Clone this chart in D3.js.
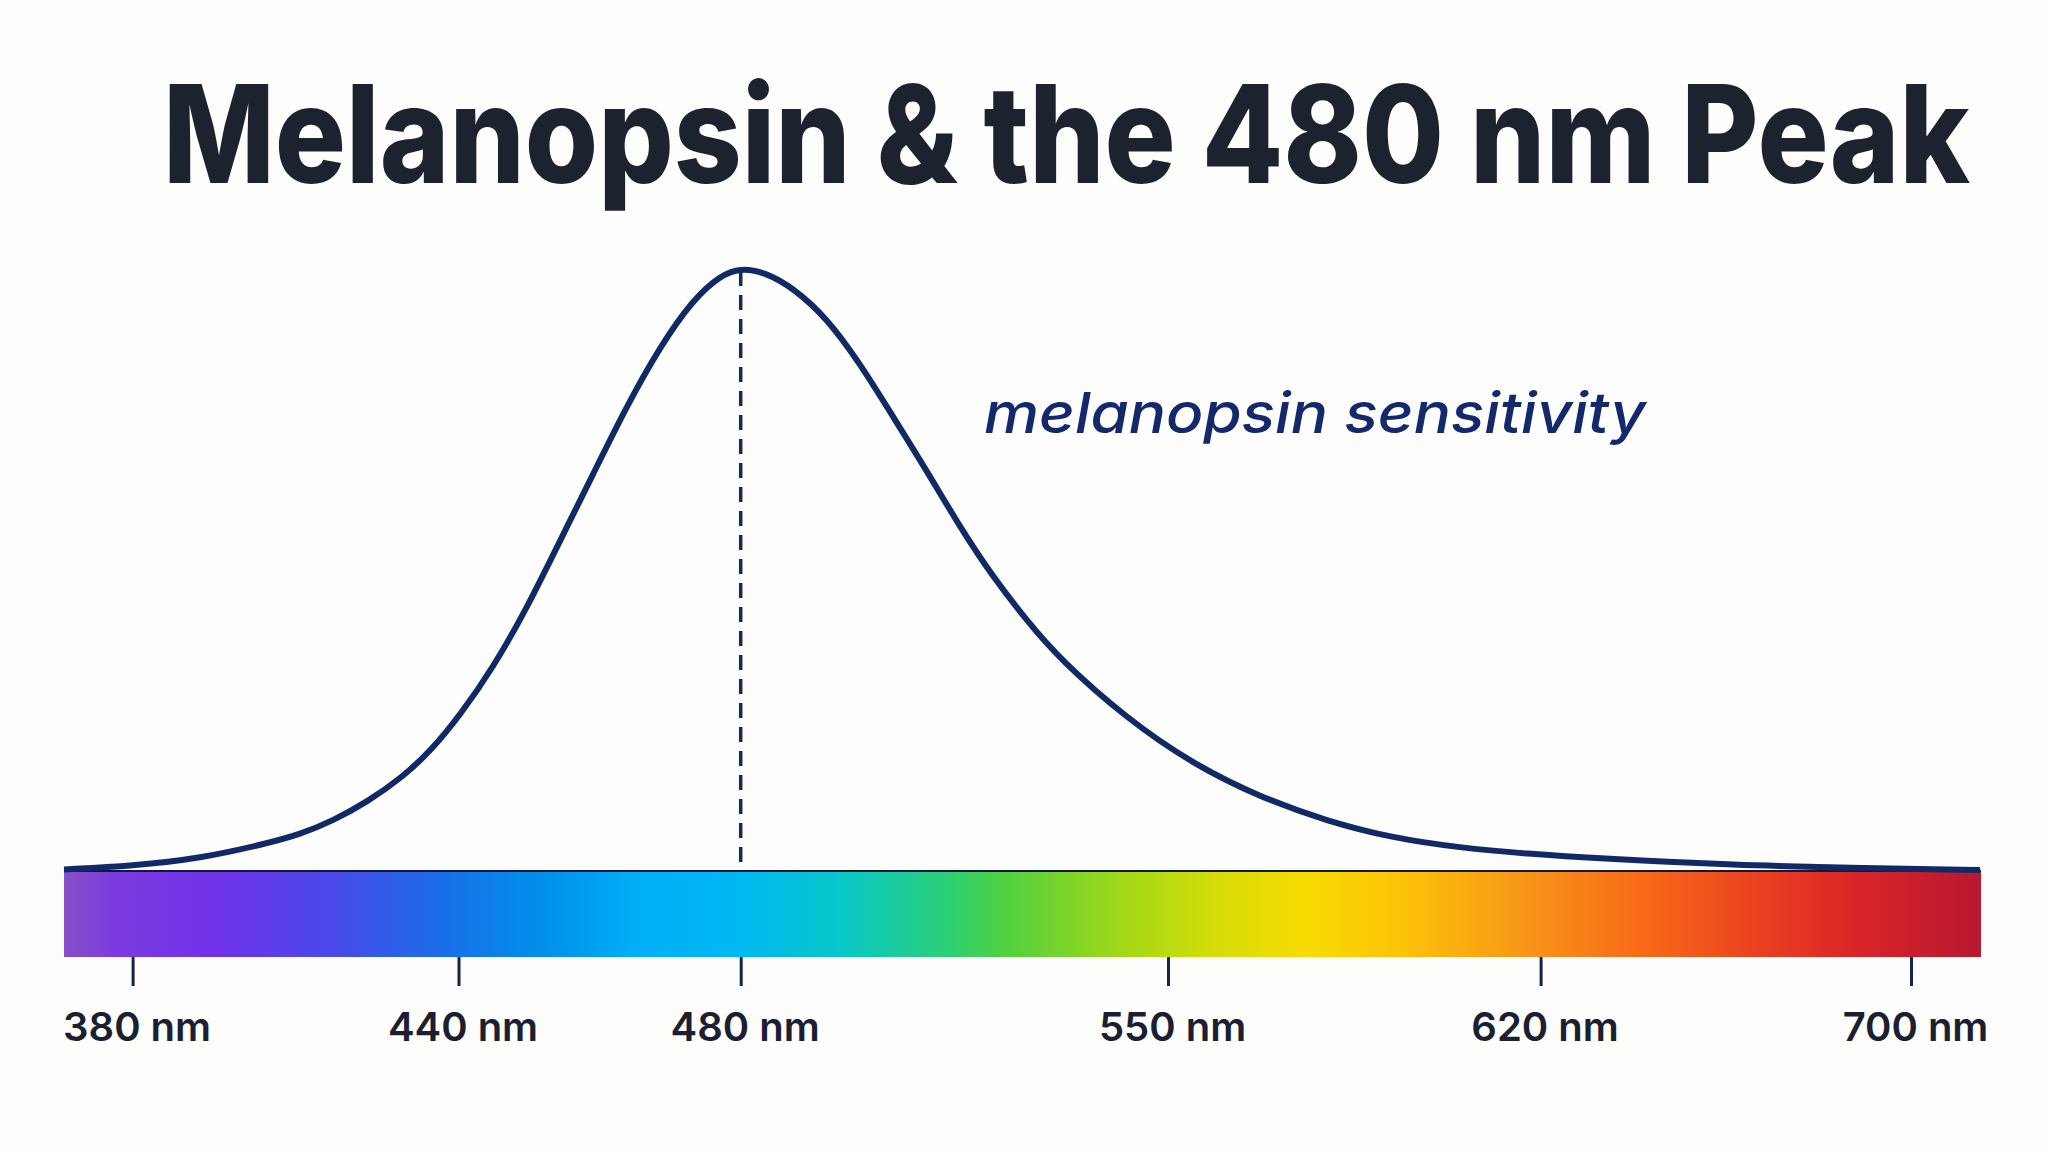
<!DOCTYPE html>
<html>
<head>
<meta charset="utf-8">
<script src="https://cdn.jsdelivr.net/npm/d3@7"></script>
<style>
  html, body { margin: 0; padding: 0; background: #fdfdfc; }
  svg { display: block; }
</style>
</head>
<body>
<div class="chart"></div>
<script>

const title = "Melanopsin & the 480 nm Peak";
const curveLabel = "melanopsin sensitivity";

// axis ticks (nm) and the ends of the spectrum band
const tickValues = [380, 440, 480, 550, 620, 700];
const bandEnds = [367.5, 715];
const peakNm = 480;

// sensitivity curve
const wavelengths = [367.5, 380.1, 392.4, 404.7, 410.8, 416.9, 423.2, 429.8, 435.0, 440.2, 444.9, 449.7, 454.4, 459.1, 463.9, 468.6, 473.2, 477.1, 480.0, 484.0, 488.6, 494.1, 499.5, 504.9, 510.5, 515.9, 521.3, 526.9, 532.3, 543.3, 554.7, 567.3, 579.9, 592.3, 604.8, 617.4, 632.8, 661.6, 690.5, 714.8];
const sensitivity = [0.001, 0.007, 0.019, 0.044, 0.059, 0.082, 0.113, 0.155, 0.199, 0.257, 0.336, 0.435, 0.547, 0.658, 0.772, 0.870, 0.947, 0.988, 1.0, 0.993, 0.967, 0.917, 0.842, 0.754, 0.663, 0.570, 0.487, 0.414, 0.350, 0.251, 0.176, 0.121, 0.081, 0.053, 0.037, 0.027, 0.019, 0.008, 0.003, 0.0];

// spectrum colour stops (nm)
const stopNm = [367.5, 377, 395, 416, 437, 452, 466, 480, 497, 515, 523, 542, 560, 576, 595, 616, 643, 670, 689, 714.5];
const stopColor = ["#8650c6", "#7d3ae0", "#7032e8", "#4a48e8", "#1a6ee8", "#0090ea", "#00b0f8", "#00b8f2", "#08c8c6", "#30d070", "#50d040", "#a0d818", "#d8dc08", "#f8dc00", "#fcc008", "#f89818", "#f86818", "#e83c20", "#d82428", "#b81830"];

const width = 2048, height = 1152;
const bandTop = 871, bandBottom = 957;

const svg = d3.select(".chart").append("svg")
  .attr("width", width)
  .attr("height", height);

// wavelength axis is not linear in the picture, so piecewise
const x = d3.scaleLinear()
  .domain([bandEnds[0], ...tickValues, bandEnds[1]])
  .range([64, 132.6, 458.5, 740.7, 1168, 1540.6, 1911, 1981]);

const y = d3.scaleLinear()
  .domain([0, 1])
  .range([870, 268]);

// stretch a text horizontally so it spans a given width
const fitText = (sel, left, baseline, targetWidth) => {
  const w = sel.node().getComputedTextLength();
  sel.attr("transform", `translate(${left},${baseline}) scale(${targetWidth / w},1)`);
};

// title
const titleText = svg.append("text")
  .style("font-family", "Inter, 'Noto Sans', sans-serif")
  .style("font-weight", 800)
  .style("font-size", "136px")
  .style("fill", "#1c222e")
  .text(title);
fitText(titleText, 163, 183, 1807);

// spectrum band
const grad = svg.append("defs").append("linearGradient")
  .attr("id", "spectrum")
  .attr("gradientUnits", "userSpaceOnUse")
  .attr("x1", x(bandEnds[0])).attr("x2", x(bandEnds[1]))
  .attr("y1", 0).attr("y2", 0);

grad.selectAll("stop")
  .data(stopNm)
  .join("stop")
  .attr("offset", d => (x(d) - x(bandEnds[0])) / (x(bandEnds[1]) - x(bandEnds[0])))
  .attr("stop-color", (d, i) => stopColor[i]);

svg.append("rect")
  .attr("x", x(bandEnds[0]))
  .attr("y", bandTop)
  .attr("width", x(bandEnds[1]) - x(bandEnds[0]))
  .attr("height", bandBottom - bandTop)
  .attr("fill", "url(#spectrum)");

svg.append("line")
  .attr("x1", x(bandEnds[0])).attr("x2", x(bandEnds[1]))
  .attr("y1", bandTop).attr("y2", bandTop)
  .attr("stroke", "#0e1a3c")
  .attr("stroke-width", 2);

// axis
const axis = svg.append("g")
  .attr("transform", `translate(0,${bandBottom})`)
  .call(d3.axisBottom(x)
    .tickValues(tickValues)
    .tickSize(29)
    .tickFormat(d => d + " nm"));

axis.select(".domain").remove();
axis.selectAll(".tick line")
  .attr("stroke", "#15244a")
  .attr("stroke-width", 3);
axis.selectAll(".tick text")
  .attr("y", 84)
  .attr("dy", 0)
  .attr("dx", 4)
  .style("font-family", "Inter, 'Noto Sans', sans-serif")
  .style("font-weight", 600)
  .style("font-size", "40px")
  .style("fill", "#1a2030");

// peak marker
svg.append("line")
  .attr("x1", x(peakNm)).attr("x2", x(peakNm))
  .attr("y1", y(0.995)).attr("y2", bandTop)
  .attr("stroke", "#14285e")
  .attr("stroke-width", 3.5)
  .attr("stroke-dasharray", "15,9");

// sensitivity curve (b-spline smooths the hand-read points)
const line = d3.line()
  .x((d, i) => x(wavelengths[i]))
  .y(d => y(d))
  .curve(d3.curveBasis);

svg.append("path")
  .datum(sensitivity)
  .attr("d", line)
  .attr("fill", "none")
  .attr("stroke", "#112a66")
  .attr("stroke-width", 6);

// curve label
const labelText = svg.append("text")
  .style("font-family", "Inter, 'Noto Sans', sans-serif")
  .style("font-style", "italic")
  .style("font-weight", 500)
  .style("font-size", "56px")
  .style("fill", "#14296b")
  .text(curveLabel);
fitText(labelText, 984, 433, 662);

</script>
</body>
</html>
